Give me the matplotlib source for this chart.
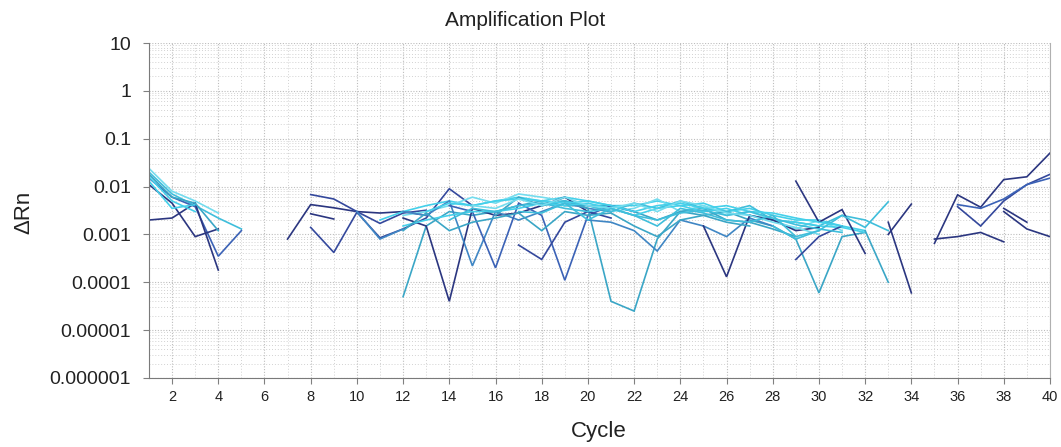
import numpy as np
import matplotlib
matplotlib.use("Agg")
import matplotlib.pyplot as plt
from matplotlib.ticker import FixedLocator, LogLocator, NullFormatter

plt.rcParams['font.family'] = ['Liberation Sans', 'DejaVu Sans']

# ---- data: (start cycle, values) per well ----
cycles = np.arange(1, 41)
xticks = list(range(2, 41, 2))
yticks = [1e-6, 1e-5, 1e-4, 1e-3, 1e-2, 1e-1, 1, 10]
ytick_labels = ['0.000001', '0.00001', '0.0001', '0.001', '0.01', '0.1', '1', '10']

e1 = [0.024, 0.008, 0.005, 0.0028]
e2 = [0.020, 0.007, 0.004, 0.0022, 0.0013]
e3 = [0.015, 0.006, 0.0038, 0.00035, 0.0012]
e4 = [0.011, 0.0045, 0.0009, 0.0013]
e5 = [0.0020, 0.0022, 0.0045, 0.00018]
e6 = [0.013, 0.0035, 0.0042]
e7 = [0.018, 0.006, 0.0045, 0.0012]
e8 = [0.016, 0.005, 0.003]

g1 = [0.0008, 0.0042, 0.0036, 0.0030, 0.0028, 0.0030, 0.0025]
g2 = [0.0068, 0.0055, 0.0030, 0.0017, 0.0028, 0.0032]
g3 = [0.0027, 0.0021]
g4 = [0.0014, 0.00042, 0.0029, 0.00085, 0.0013, 0.0022, 0.0090, 0.0040]
g5 = [0.0030, 0.0008, 0.0013]

m1 = [0.002, 0.003, 0.004, 0.005, 0.004, 0.005, 0.006, 0.005, 0.006, 0.005, 0.004,
      0.004, 0.005, 0.004, 0.0045, 0.003, 0.0035, 0.0025, 0.002, 0.002, 0.0015, 0.0012]
m2 = [0.0025, 0.003, 0.004, 0.006, 0.0045, 0.007, 0.006, 0.005, 0.004, 0.003,
      0.0035, 0.0055, 0.003, 0.004, 0.0025, 0.003, 0.002, 0.0013, 0.002, 0.0012]
m3 = [0.00005, 0.0015, 0.003, 0.0025, 0.003, 0.004, 0.005, 0.004, 0.004, 0.004, 0.003,
      0.002, 0.003, 0.0025, 0.003, 0.002, 0.0015, 0.0008, 0.00006, 0.0009, 0.0011]
m4 = [0.0022, 0.0015, 0.00004, 0.0035, 0.0025, 0.0028, 0.004, 0.006, 0.003]
m5 = [0.003, 0.0025, 0.005, 0.00022, 0.003, 0.002, 0.003, 0.0045, 0.0035, 0.003]
m6 = [0.004, 0.003, 0.0002, 0.0045, 0.0025, 0.00011, 0.0025, 0.004, 0.003]
m7 = [0.0025, 0.006, 0.004, 0.005, 0.0035, 0.00004, 0.000025, 0.0008, 0.003, 0.0035,
      0.002, 0.0018, 0.0013, 0.0009]
m8 = [0.0006, 0.0003, 0.0018, 0.003, 0.0022]
m9 = [0.004, 0.005, 0.004, 0.003, 0.0045, 0.0035, 0.005, 0.0035, 0.003, 0.004, 0.002,
      0.0018, 0.0015, 0.0025, 0.002, 0.0012]
m10 = [0.0015, 0.002, 0.0025, 0.003, 0.003, 0.0035, 0.0045, 0.004, 0.0045, 0.0035,
       0.0025, 0.0035, 0.004, 0.003, 0.0035, 0.0025, 0.002, 0.0018, 0.0015, 0.0014, 0.0011]
m11 = [0.002, 0.0018, 0.0012, 0.00045, 0.002, 0.0015, 0.0009, 0.0022, 0.0015]
m12 = [0.0015, 0.00013, 0.0025, 0.002, 0.0012, 0.0014]
m13 = [0.013, 0.0018, 0.0033, 0.0004]
m14 = [0.0015, 0.0008, 0.0012, 0.0025, 0.0014, 0.0048]
m15 = [0.0012, 0.0001]
m16 = [0.0003, 0.0009, 0.0015]
m17 = [0.0018, 0.00006]
m18 = [0.0010, 0.0043]

c1 = [0.003, 0.0045, 0.004, 0.005, 0.0055, 0.005, 0.0045, 0.005, 0.004, 0.003, 0.004,
      0.0045, 0.0035, 0.004, 0.003, 0.0028, 0.0022, 0.0018, 0.0015]
c2 = [0.002, 0.0035, 0.003, 0.004, 0.0045, 0.0035, 0.003, 0.0035, 0.0025, 0.002,
      0.0028, 0.0032, 0.0025, 0.003, 0.0022, 0.0016, 0.0013, 0.0011]
c3 = [0.004, 0.0035, 0.0055, 0.004, 0.006, 0.004, 0.0035, 0.0045, 0.003, 0.005, 0.004,
      0.0028, 0.0025, 0.0018, 0.0014, 0.001]
c4 = [0.0012, 0.0028, 0.0012, 0.0018, 0.0022, 0.0028, 0.0012, 0.003, 0.0025, 0.0028,
      0.0015, 0.0009, 0.002, 0.0025, 0.0018, 0.0015]
c5 = [0.003, 0.0028, 0.0045, 0.002, 0.0035, 0.0025, 0.0015, 0.0035, 0.0028, 0.002,
      0.0018, 0.0025, 0.0009, 0.0012]

r1 = [0.00065, 0.0067, 0.0037, 0.014, 0.016, 0.05]
r2 = [0.0008, 0.0009, 0.0011, 0.0007]
r3 = [0.0038, 0.0015, 0.005, 0.011, 0.018]
r4 = [0.0042, 0.0035, 0.0055, 0.011, 0.015]
r5 = [0.003, 0.0013, 0.0009]
r6 = [0.0035, 0.0018]

navy = '#2b3680'
dblue = '#34489c'
blue = '#3b62b6'
steel = '#3f86c4'
teal = '#3aa6c6'
aqua = '#3fbedb'
cyan = '#44d0ea'
lcyan = '#74dcee'

wells = [
    (1, e1, lcyan), (1, e2, aqua), (1, e3, blue), (1, e4, navy), (1, e5, navy),
    (1, e6, cyan), (1, e7, teal), (1, e8, cyan),
    (7, g1, navy), (8, g2, dblue), (8, g3, navy), (8, g4, dblue), (10, g5, steel),
    (11, m1, cyan), (12, m2, lcyan), (12, m3, teal), (12, m4, navy), (12, m5, steel),
    (14, m6, blue), (16, m7, teal), (17, m8, dblue), (18, m9, aqua), (12, m10, cyan),
    (20, m11, steel), (25, m12, navy), (29, m13, navy), (28, m14, aqua),
    (32, m15, teal), (29, m16, dblue), (33, m17, navy), (33, m18, navy),
    (13, c1, cyan), (14, c2, aqua), (15, c3, lcyan), (12, c4, teal), (17, c5, aqua),
    (35, r1, navy), (35, r2, navy), (36, r3, dblue), (36, r4, blue),
    (38, r5, navy), (38, r6, navy),
]

fig = plt.figure(figsize=(10.61, 4.47), dpi=100)
ax = fig.add_axes([0.1404, 0.1544, 0.8492, 0.7494])

for start, vals, col in wells:
    x = np.arange(start, start + len(vals))
    ax.plot(x, vals, color=col, lw=1.2, solid_joinstyle='miter')

ax.set_yscale('log')
ax.set_xlim(1, 40)
ax.set_ylim(1e-6, 10)
ax.xaxis.set_major_locator(FixedLocator(xticks))
ax.xaxis.set_minor_locator(FixedLocator(list(cycles)))
ax.set_xticklabels([str(t) for t in xticks], fontsize=10.5, color='#222222')
ax.yaxis.set_major_locator(FixedLocator(yticks))
ax.yaxis.set_minor_locator(LogLocator(base=10, subs=np.arange(2, 10)))
ax.yaxis.set_minor_formatter(NullFormatter())
ax.set_yticklabels(ytick_labels, fontsize=14, color='#222222')

ax.grid(True, which='major', color='#bdbdbd', linestyle=(0, (1, 1.5)), lw=0.8)
ax.grid(True, which='minor', color='#d2d2d2', linestyle=(0, (1, 2)), lw=0.7)
ax.set_axisbelow(True)

ax.tick_params(axis='both', which='major', length=4, color='#808080', direction='out')
ax.tick_params(axis='y', which='major', pad=9)
ax.tick_params(axis='x', which='major', pad=5)
ax.tick_params(axis='x', which='minor', length=0)
ax.tick_params(axis='y', which='minor', length=0)
for s in ['left', 'bottom']:
    ax.spines[s].set_color('#7a7a7a')
ax.spines['right'].set_color('#b0b0b0')
ax.spines['top'].set_visible(False)

fig.text(525 / 1061, 1 - 20 / 447, 'Amplification Plot', fontsize=15,
         ha='center', va='center', color='#222222')
fig.text(599 / 1061, 1 - 431 / 447, 'Cycle', fontsize=16,
         ha='center', va='center', color='#222222')
fig.text(24 / 1061, 1 - 212 / 447, 'ΔRn', fontsize=16, rotation=90,
         ha='center', va='center', color='#222222')

fig.savefig('out.png', dpi=100)
